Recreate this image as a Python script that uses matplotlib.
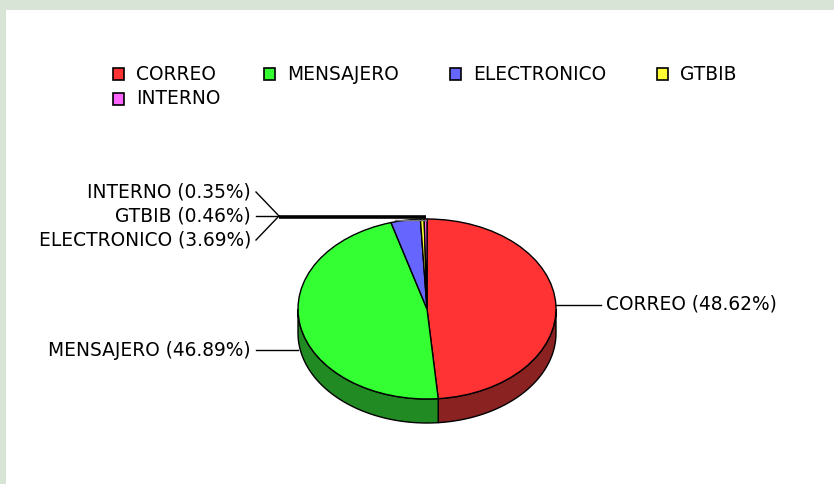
import numpy as np
import matplotlib
matplotlib.use("Agg")
import matplotlib.pyplot as plt
from matplotlib.patches import Wedge, Polygon, Rectangle
from matplotlib.transforms import Affine2D

# ---- data ----
categories = ["CORREO", "MENSAJERO", "ELECTRONICO", "GTBIB", "INTERNO"]
percentages = [48.62, 46.89, 3.69, 0.46, 0.35]
top_colors = ["#ff3333", "#33ff33", "#6666ff", "#ffff33", "#ff66ff"]
side_colors = ["#8a2222", "#228a22", "#333388", "#888822", "#883388"]

# ---- layout (pixels) ----
W, H = 834, 484
cx, cy, a, b, depth = 427, 309, 129, 90, 24
FONT = "DejaVu Sans"
FS = 13.4

fig = plt.figure(figsize=(W / 100, H / 100), dpi=100, facecolor="#d7e4d6")
ax = fig.add_axes([0, 0, 1, 1])
ax.set_xlim(0, W)
ax.set_ylim(H, 0)
ax.axis("off")
ax.add_patch(Rectangle((6, 10), W, H, facecolor="white", edgecolor="none", zorder=0))

vals = np.array(percentages)
fr = vals / vals.sum() * 360.0
ends = 90 - np.cumsum(fr)
starts = ends + fr

# ---- side walls (front half only) ----
for t1, t2, sc in zip(ends, starts, side_colors):
    lo, hi = max(t1, -180), min(t2, 0)
    if hi <= lo:
        continue
    t = np.radians(np.linspace(lo, hi, 80))
    xs = cx + a * np.cos(t)
    ys = cy - b * np.sin(t)
    pts = np.concatenate([np.column_stack([xs, ys]),
                          np.column_stack([xs[::-1], ys[::-1] + depth])])
    ax.add_patch(Polygon(pts, closed=True, facecolor=sc, edgecolor="black",
                         linewidth=1.0, zorder=2))

# ---- top face ----
tr = Affine2D().scale(a, -b).translate(cx, cy) + ax.transData
for t1, t2, c in zip(ends, starts, top_colors):
    w = Wedge((0, 0), 1.0, t1, t2, facecolor=c, edgecolor="black",
              linewidth=1.0, transform=tr, zorder=3)
    ax.add_patch(w)

# ---- labels ----
labels = [f"{c} ({p:.2f}%)" for c, p in zip(categories, percentages)]
lk = dict(color="black", linewidth=1.0, zorder=4)

# CORREO (right)
ax.plot([556, 601], [305, 305], **lk)
ax.text(606, 304, labels[0], ha="left", va="center", fontsize=FS, family=FONT)
# MENSAJERO (left)
ax.plot([298, 256], [350, 350], **lk)
ax.text(251, 351, labels[1], ha="right", va="center", fontsize=FS, family=FONT)
# small slices (left, stacked)
elbow = (279, 216)
small_y = {2: 240, 3: 216, 4: 192}
for i, y in small_y.items():
    ax.text(251, y, labels[i], ha="right", va="center", fontsize=FS, family=FONT)
    ax.plot([256, elbow[0]], [y, elbow[1]], **lk)
ax.plot([elbow[0], 426], [217, 217], color="black", linewidth=2.6,
        solid_capstyle="butt", zorder=4)
ax.plot([395, 426], [219.5, 219.5], color="#777777", linewidth=1.0, zorder=4)

# ---- legend ----
leg_pos = [(113, 74), (264, 74), (450, 74), (657, 74), (113, 99)]
for (x, y), c, name in zip(leg_pos, top_colors, categories):
    ax.add_patch(Rectangle((x, y - 6), 11, 12, facecolor=c, edgecolor="black",
                           linewidth=1.2, zorder=4))
    ax.text(x + 23, y, name, ha="left", va="center", fontsize=FS, family=FONT)

fig.savefig("out.png", dpi=100, facecolor=fig.get_facecolor())
